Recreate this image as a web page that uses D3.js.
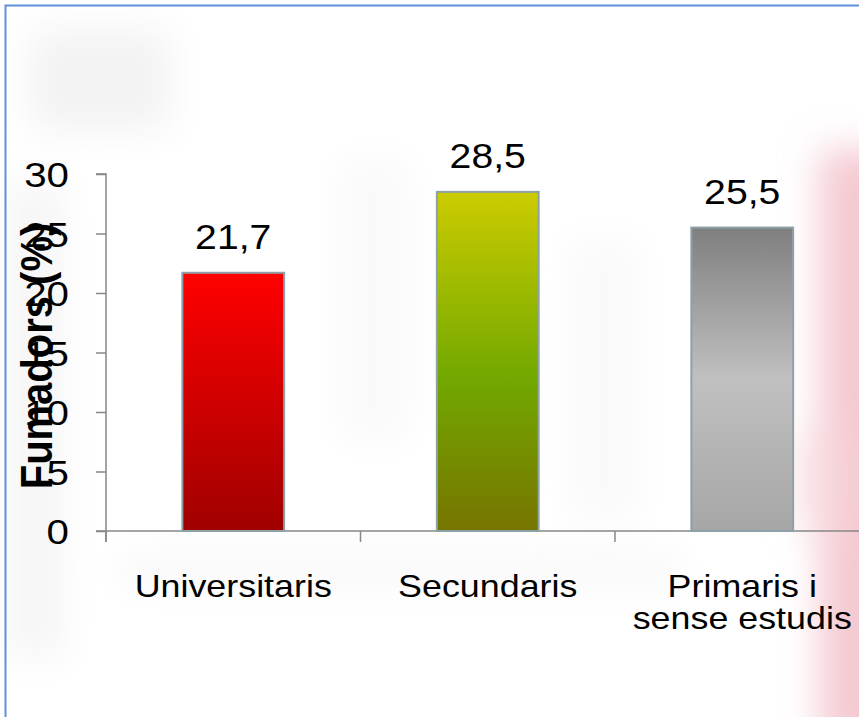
<!DOCTYPE html>
<html>
<head>
<meta charset="utf-8">
<script src="https://cdn.jsdelivr.net/npm/d3@7"></script>
<style>
  html, body { margin: 0; padding: 0; background: #fff; }
  svg { display: block; font-family: "Liberation Sans", Arial, sans-serif; }
</style>
</head>
<body>
<svg class="chart" width="859" height="717"></svg>
<script>
const WIDTH = 859;
const HEIGHT = 717;
const STRETCH = 1.12; // text in the source looks a bit wide

const categories = ['Universitaris', 'Secundaris', 'Primaris i\nsense estudis'];
const values = [21.7, 28.5, 25.5];
const valueLabels = ['21,7', '28,5', '25,5'];
const yTicks = [0, 5, 10, 15, 20, 25, 30];
const yTitle = 'Fumadors (%)';

// gradient stops per bar, top to bottom
const barColors = [
  [['0%', '#ff0000'], ['100%', '#a00000']],
  [['0%', '#cccc00'], ['55%', '#72a800'], ['100%', '#777500']],
  [['0%', '#7f7f7f'], ['50%', '#c0c0c0'], ['100%', '#a6a6a6']],
];

const svg = d3.select('.chart');
const defs = svg.append('defs');

defs.append('filter').attr('id', 'blur')
  .attr('x', '-50%').attr('y', '-50%').attr('width', '200%').attr('height', '200%')
  .append('feGaussianBlur').attr('stdDeviation', 18);

barColors.forEach((stops, i) => {
  const g = defs.append('linearGradient')
    .attr('id', `bar-${i}`)
    .attr('x1', 0).attr('y1', 0).attr('x2', 0).attr('y2', 1);
  stops.forEach(([off, col]) => g.append('stop').attr('offset', off).attr('stop-color', col));
});

// faded background picture
const bg = svg.append('g').attr('filter', 'url(#blur)');
bg.append('rect').attr('x', 30).attr('y', 30).attr('width', 140).attr('height', 100).style('fill', '#f3f3f3');
bg.append('rect').attr('x', 5).attr('y', 180).attr('width', 60).attr('height', 480).style('fill', '#f6f6f6');
bg.append('rect').attr('x', 340).attr('y', 160).attr('width', 70).attr('height', 280).style('fill', '#f9f9f9');
bg.append('rect').attr('x', 570).attr('y', 240).attr('width', 70).attr('height', 280).style('fill', '#f9f9f9');
bg.append('rect').attr('x', 120).attr('y', 555).attr('width', 560).attr('height', 30).style('fill', '#f7f7f7');
bg.append('rect').attr('x', 820).attr('y', 150).attr('width', 80).attr('height', 600).style('fill', '#f4c9d1');
bg.append('rect').attr('x', 800).attr('y', 430).attr('width', 40).attr('height', 100).style('fill', '#f8dbe0');

// frame
svg.append('rect')
  .attr('x', 5.5).attr('y', 5.5)
  .attr('width', WIDTH + 20).attr('height', HEIGHT + 20)
  .style('fill', 'none')
  .style('stroke', '#5f91d8')
  .style('stroke-width', 2);

const x = d3.scaleBand()
  .domain(categories)
  .range([106, 869.5])
  .paddingInner(0.6)
  .paddingOuter(0.3);

const y = d3.scaleLinear().domain([0, 30]).range([531, 174]);

const axisColor = '#878787';

// y axis
const yAxis = svg.append('g')
  .attr('transform', `translate(${x.range()[0]},0)`)
  .call(d3.axisLeft(y).tickValues(yTicks).tickSize(10).tickFormat(''));
yAxis.select('.domain').attr('d', `M-10,${y(30)}H0V${y(0) + 11}`);
yAxis.selectAll('path, line').style('stroke', axisColor).style('stroke-width', 1.5);

// x axis
const step = x.step();
const xAxis = svg.append('g');
xAxis.append('line')
  .attr('x1', x.range()[0] - 10).attr('x2', WIDTH)
  .attr('y1', y(0)).attr('y2', y(0));
xAxis.selectAll('.xtick')
  .data(d3.range(categories.length + 1))
  .enter().append('line')
  .attr('x1', (i) => x.range()[0] + i * step)
  .attr('x2', (i) => x.range()[0] + i * step)
  .attr('y1', y(0)).attr('y2', y(0) + 11);
xAxis.selectAll('line').style('stroke', axisColor).style('stroke-width', 1.5);

// bars
svg.selectAll('.bar')
  .data(values)
  .enter().append('rect')
  .attr('class', 'bar')
  .attr('x', (d, i) => x(categories[i]))
  .attr('y', (d) => y(d))
  .attr('width', x.bandwidth())
  .attr('height', (d) => y(0) - y(d))
  .style('fill', (d, i) => `url(#bar-${i})`)
  .style('stroke', '#8da2a8')
  .style('stroke-width', 2);

function wideText(parent, tx, ty, str, size, anchor, weight) {
  const g = parent.append('g').attr('transform', `translate(${tx},${ty}) scale(${STRETCH},1)`);
  return g.append('text')
    .attr('text-anchor', anchor)
    .style('font-size', `${size}px`)
    .style('font-weight', weight || 'normal')
    .style('fill', '#000')
    .text(str);
}

// y tick labels
yTicks.forEach((t) => {
  wideText(svg, 69, y(t) + 13, String(t), 36, 'end');
});

// value labels
values.forEach((v, i) => {
  wideText(svg, x(categories[i]) + x.bandwidth() / 2, y(v) - 24, valueLabels[i], 35, 'middle');
});

// category labels
categories.forEach((c, i) => {
  const cx = x(c) + x.bandwidth() / 2;
  c.split('\n').forEach((line, j) => {
    wideText(svg, cx, 597 + j * 32, line, 32, 'middle');
  });
});

// y title
svg.append('text')
  .attr('transform', `translate(52,356) rotate(-90) scale(1,${STRETCH})`)
  .attr('text-anchor', 'middle')
  .style('font-size', '40px')
  .style('font-weight', 'bold')
  .style('fill', '#000')
  .text(yTitle);
</script>
</body>
</html>
